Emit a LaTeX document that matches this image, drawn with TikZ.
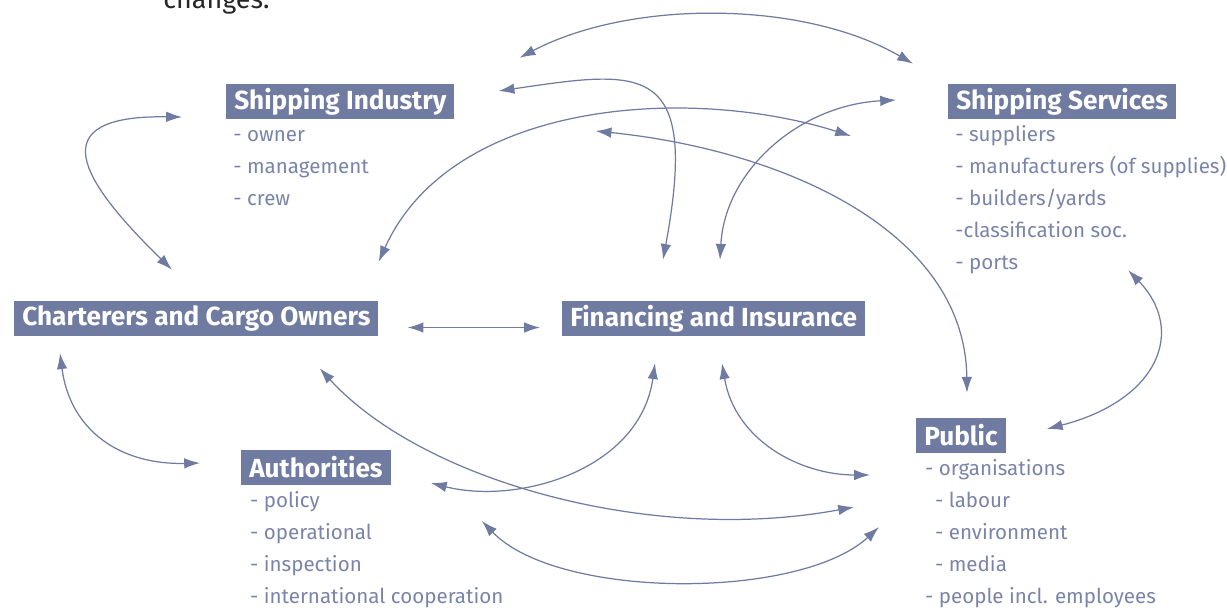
\documentclass[tikz,border=0pt]{standalone}
\usepackage{fontspec}
\setmainfont{Fira Sans}
\usetikzlibrary{arrows.meta}
\definecolor{boxblue}{RGB}{112,123,161}
\definecolor{itemblue}{RGB}{122,132,169}
\tikzset{
  title/.style={fill=boxblue, text=white, anchor=west, inner xsep=4.5pt,
    inner ysep=0pt, minimum height=19.8pt,
    font=\fontsize{14.9}{17}\selectfont\bfseries},
  items/.style={text=itemblue, anchor=north west, inner sep=0pt, align=left,
    font=\fontsize{11.7}{18.14}\selectfont},
  link/.style={draw=boxblue, line width=0.7pt, <->}
}
\begin{document}
\begin{tikzpicture}[x=0.02cm, y=-0.02cm, >={Latex[length=9pt,width=6pt]}]
    \useasboundingbox (0,0) rectangle (1227,609);
    \node[anchor=base west, inner sep=0pt, text=black!85,
        font=\fontsize{15.3}{18}\selectfont] (top) at (163,8) {changes.};
    % groups
    \node[title] (si) at (226,101.5) {Shipping Industry};
    \node[title] (ss) at (948,101.5) {Shipping Services};
    \node[title] (cc) at (14,318.5) {Charterers and Cargo Owners};
    \node[title] (fi) at (562,318.5) {Financing and Insurance};
    \node[title] (au) at (241,467.5) {Authorities};
    \node[title] (pu) at (916,435.5) {Public};
    % members
    \node[items] (si-list) at ([xshift=4pt]si.south west)
        {\strut- owner\\- management\\- crew};
    \node[items] (ss-list) at ([xshift=4pt]ss.south west)
        {\strut- suppliers\\- manufacturers (of supplies)\\- builders/yards\\-classification soc.\\- ports};
    \node[items] (au-list) at ([xshift=5pt]au.south west)
        {\strut- policy\\- operational\\- inspection\\- international cooperation};
    \node[items] (pu-list) at ([xshift=5pt]pu.south west)
        {\strut- organisations\\\hspace*{5.7pt}- labour\\\hspace*{5.7pt}- environment\\\hspace*{5.7pt}- media\\- people incl. employees};
    % relations
    \draw[link] ([shift={(65,-26)}]si.north east) .. controls +(110,-58)
        and +(-110,-64) .. ([shift={(-35,-20)}]ss.north west);
    \draw[link] ([shift={(101,-41)}]fi.north west) .. controls +(37,-200)
        and +(143,-21) .. ([shift={(44,-10.5)}]si.east);
    \draw[link] ([shift={(0,-39)}]cc.north east) .. controls +(73,-162)
        and +(-161,-51) .. ([shift={(-97,34.5)}]ss.west);
    \draw[link] ([shift={(158,-41)}]fi.north west) .. controls +(5,-90)
        and +(-96,5) .. ([shift={(-52,-1.5)}]ss.west);
    \draw[link] ([shift={(141,29.5)}]si.east) .. controls +(186,19)
        and +(-2,-163) .. ([shift={(51,-25)}]pu.north west);
    \draw[link] ([shift={(-44,15.5)}]si.west) .. controls +(-142,-2)
        and +(-92,-90) .. ([shift={(158,-31)}]cc.north west);
    \draw[link] ([shift={(29,9)}]cc.east) -- ([shift={(-22,9)}]fi.west);
    \draw[link] ([shift={(46,17)}]cc.south west) .. controls +(10,77)
        and +(-80,2) .. ([shift={(-41,-4.5)}]au.west);
    \draw[link] ([shift={(-59,32)}]cc.south east) .. controls +(102,112)
        and +(-204,38) .. ([shift={(-62,71.5)}]pu.west);
    \draw[link] ([shift={(93,27)}]fi.south west) .. controls +(-15,107)
        and +(87,22) .. ([shift={(40,15.5)}]au.east);
    \draw[link] ([shift={(160,27)}]fi.south west) .. controls +(13,77)
        and +(-70,0) .. ([shift={(-46,39.5)}]pu.west);
    \draw[link] ([shift={(91,53.5)}]au.east) .. controls +(76,79)
        and +(-79,73) .. ([shift={(-37,91.5)}]pu.west);
    \draw[link] ([shift={(-48,151)}]ss.south east) .. controls +(58,60)
        and +(112,-29) .. ([shift={(41,-6.5)}]pu.east);
\end{tikzpicture}
\end{document}
